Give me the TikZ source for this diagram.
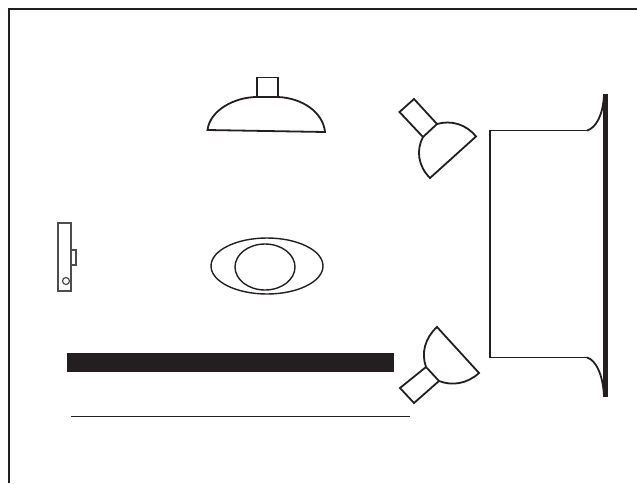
\documentclass[tikz,border=0pt]{standalone}
\definecolor{ink}{RGB}{35,31,32}
\tikzset{
  outline/.style={draw=ink,line width=1.8pt,line join=miter},
  thinline/.style={draw=ink,line width=1.4pt},
  camline/.style={draw=ink!80,line width=1.2pt},
  solidbar/.style={fill=ink,draw=none}
}
\begin{document}
\begin{tikzpicture}[x=1pt,y=-1pt]
\useasboundingbox (0,0) rectangle (637,483);
\fill[white] (0,0) rectangle (637,483);
% frame
\draw[ink,line width=2pt] (9,483) -- (9,9) -- (637,9);
% top light
\draw[outline] (257,97) -- (257,77.5) -- (278,77.5) -- (278,97);
\draw[outline] (207.5,130) .. controls (210,110) and (235,97) .. (257,97) -- (278,97)
  .. controls (302,98) and (323,112) .. (325,132) -- cycle;
% upper lamp
\draw[outline] (437,124) -- (414,99) -- (399.5,112) -- (423,137);
\draw[outline] (423,137) -- (437,124) .. controls (451,120) and (466,124) .. (476,136.5)
  -- (430,178) .. controls (418,166) and (416,150) .. (423,137) -- cycle;
% lower lamp
\draw[outline] (426,367) -- (400,388) -- (414,403) -- (439,381);
\draw[outline] (426,367) .. controls (421,353) and (425,338) .. (437,327) -- (479,373)
  .. controls (467,384) and (452,386) .. (439,381) -- cycle;
% subject
\draw[thinline] (267,266) ellipse [x radius=56,y radius=28];
\draw[thinline] (265,267) ellipse [x radius=30,y radius=23];
% camera
\draw[camline] (58,223) rectangle (71,291);
\draw[camline] (71,250) rectangle (76,265);
\draw[camline] (66,281) circle [radius=3.5];
% bar and line
\fill[solidbar] (67,353) rectangle (394,372);
\draw[ink,line width=1.6pt] (71,416.5) -- (410,416.5);
% backdrop
\draw[outline] (587,130.5) -- (490,130.5) -- (490,357.5) -- (587,357.5);
\draw[outline] (587,130.5) .. controls (596,128) and (603,115) .. (604,95);
\draw[outline] (587,357.5) .. controls (596,360) and (603,375) .. (604,396);
\fill[solidbar] (603,94) rectangle (608,397);
\end{tikzpicture}
\end{document}
